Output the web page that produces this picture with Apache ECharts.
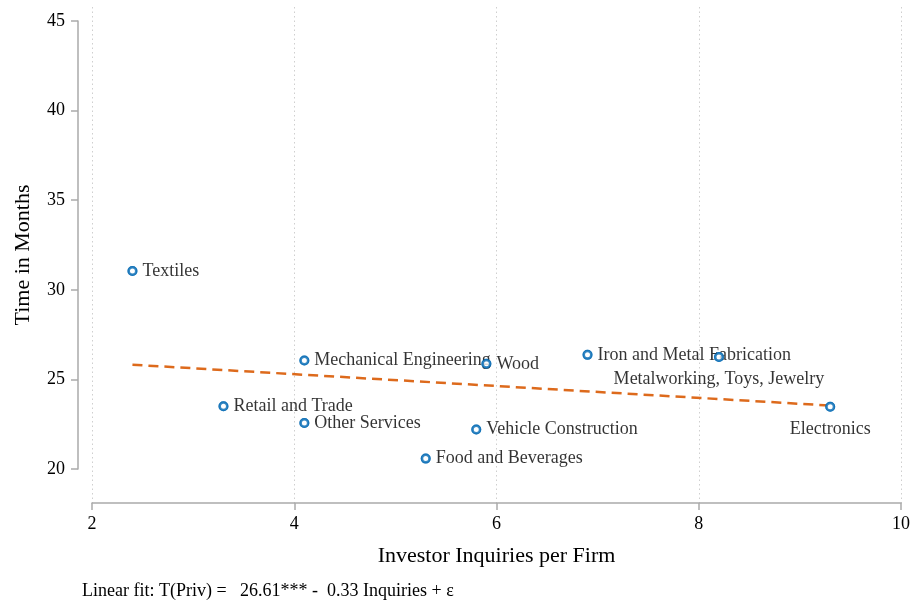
<!DOCTYPE html>
<html><head><meta charset="utf-8">
<script src="https://cdn.jsdelivr.net/npm/echarts@6/dist/echarts.min.js"></script>
<style>html,body{margin:0;padding:0;background:#fff}#c{width:913px;height:606px}</style>
</head><body><div id="c"></div>
<script>
const industries = ["Textiles","Mechanical Engineering","Wood","Iron and Metal Fabrication","Metalworking, Toys, Jewelry","Electronics","Retail and Trade","Other Services","Vehicle Construction","Food and Beverages"];
const inquiries = [2.4, 4.1, 5.9, 6.9, 8.2, 9.3, 3.3, 4.1, 5.8, 5.3];
const months = [31.05, 26.05, 25.87, 26.37, 26.25, 23.47, 23.5, 22.57, 22.2, 20.58];
const labelPos = ["right","right","right","right","below","below","right","right","right","right"];
const fitX = [2.4, 9.3];
const fitY = [25.82, 23.54];
const xTicks = [2, 4, 6, 8, 10];
const yTicks = [20, 25, 30, 35, 40, 45];
const footnote = "Linear fit: T(Priv) =   26.61*** -  0.33 Inquiries + ε";

const FONT = "Liberation Serif";
const BLUE = "#0d6fb6";
const ORANGE = "#dd6a1c";
const AXIS = "#aaaaaa";

const scatterData = industries.map((n, i) => {
  const d = {name: n, value: [inquiries[i], months[i]]};
  if (labelPos[i] === "below") {
    d.label = {position: "bottom", distance: 8};
  }
  return d;
});
const pointData = industries.map((n, i) => [inquiries[i], months[i]]);

const chart = echarts.init(document.getElementById('c'), null, {renderer: 'canvas'});
chart.setOption({
  animation: false,
  backgroundColor: '#fff',
  grid: [
    {left: 92, right: 10, top: 7, bottom: 103},
    {left: 92, right: 10, top: 21, height: 448}
  ],
  xAxis: [
    {gridIndex: 0, type: 'value', min: xTicks[0], max: xTicks[xTicks.length-1], interval: 2,
     axisLine: {show: true, onZero: false, lineStyle: {color: AXIS, width: 1.5}},
     axisTick: {show: true, length: 7, lineStyle: {color: AXIS, width: 1.5}},
     axisLabel: {fontFamily: FONT, fontSize: 18, color: '#000', margin: 12},
     splitLine: {show: true, lineStyle: {color: '#cfcfcf', type: [1.5, 3], width: 1}},
     name: 'Investor Inquiries per Firm', nameLocation: 'middle', nameGap: 42,
     nameTextStyle: {fontFamily: FONT, fontSize: 22, color: '#000'}},
    {gridIndex: 1, type: 'value', min: 2, max: 10, show: false}
  ],
  yAxis: [
    {gridIndex: 0, type: 'value', min: 18.1027, max: 45.78125, offset: 14,
     axisLine: {show: false}, axisTick: {show: false}, axisLabel: {show: false},
     splitLine: {show: false},
     name: 'Time in Months', nameLocation: 'middle', nameGap: 44,
     nameTextStyle: {fontFamily: FONT, fontSize: 22, color: '#000'}},
    {gridIndex: 1, type: 'value', min: yTicks[0], max: yTicks[yTicks.length-1], interval: 5, offset: 14,
     axisLine: {show: true, lineStyle: {color: AXIS, width: 1.5}},
     axisTick: {show: true, length: 7, lineStyle: {color: AXIS, width: 1.5}},
     axisLabel: {fontFamily: FONT, fontSize: 18, color: '#000', margin: 13},
     splitLine: {show: false}}
  ],
  series: [
    {type: 'line', xAxisIndex: 0, yAxisIndex: 0, data: fitX.map((x, i) => [x, fitY[i]]),
     symbol: 'none', lineStyle: {color: ORANGE, width: 2.5, type: [10, 6]}, z: 2},
    {type: 'scatter', xAxisIndex: 0, yAxisIndex: 0, data: scatterData,
     symbol: 'circle', symbolSize: 7.5,
     itemStyle: {color: '#fff', borderColor: BLUE, borderWidth: 2.5},
     label: {show: true, position: 'right', distance: 5, formatter: '{b}',
             fontFamily: FONT, fontSize: 18, color: '#000'},
     z: 3},
    {type: 'scatter', xAxisIndex: 0, yAxisIndex: 0, data: pointData,
     symbol: 'circle', symbolSize: 7.5, silent: true,
     itemStyle: {color: '#fff', borderColor: BLUE, borderWidth: 2.5},
     z: 10}
  ],
  graphic: [
    {type: 'text', left: 82, top: 582,
     style: {text: footnote, font: '18px "Liberation Serif"', fill: '#000'}}
  ]
});
</script></body></html>
